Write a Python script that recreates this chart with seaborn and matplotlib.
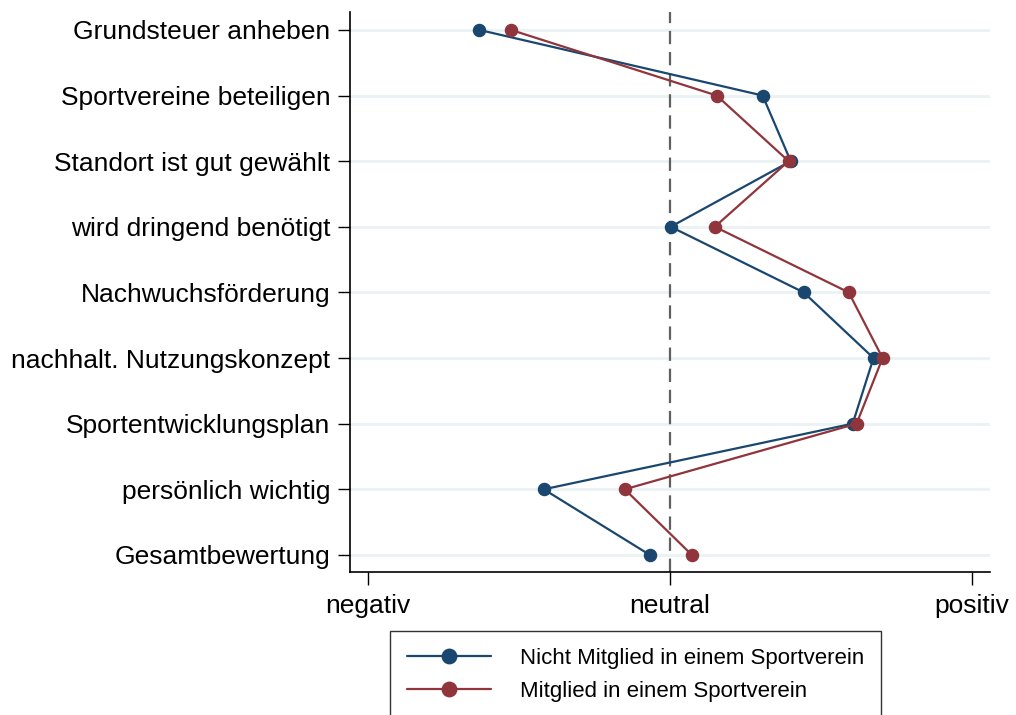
import matplotlib
matplotlib.use("Agg")
import matplotlib.pyplot as plt
import pandas as pd
import seaborn as sns

# Kategorien (von oben nach unten) und Mittelwerte je Gruppe (-1 = negativ, 1 = positiv)
kategorien = ["Grundsteuer anheben", "Sportvereine beteiligen", "Standort ist gut gewählt",
              "wird dringend benötigt", "Nachwuchsförderung", "nachhalt. Nutzungskonzept",
              "Sportentwicklungsplan", "persönlich wichtig", "Gesamtbewertung"]
nicht_mitglied = [-0.631, 0.307, 0.400, 0.003, 0.443, 0.674, 0.605, -0.417, -0.066]
mitglied = [-0.526, 0.155, 0.393, 0.149, 0.592, 0.704, 0.618, -0.149, 0.073]
gruppen = ["Nicht Mitglied in einem Sportverein", "Mitglied in einem Sportverein"]
x_ticks = [-1, 0, 1]
x_labels = ["negativ", "neutral", "positiv"]

df = pd.DataFrame({
    "kategorie": kategorien * 2,
    "wert": nicht_mitglied + mitglied,
    "gruppe": [gruppen[0]] * len(kategorien) + [gruppen[1]] * len(kategorien),
})

sns.set_style("white")
plt.rcParams["font.family"] = ["Liberation Sans", "DejaVu Sans"]
plt.rcParams["text.color"] = "black"

fig = plt.figure(figsize=(10.16, 7.15), dpi=100)
ax = fig.add_axes([0.3445, 0.2, 0.6295, 0.783])

# helle Gitterlinien je Kategorie
for i in range(len(kategorien)):
    ax.axhline(i, color="#eaf2f3", linewidth=2, zorder=0)

ax.axvline(0, color="#606060", linewidth=1.6, linestyle=(0, (6, 3.5)), zorder=1)

sns.pointplot(data=df, x="wert", y="kategorie", hue="gruppe", order=kategorien,
              hue_order=gruppen, palette=["#1a476f", "#90353b"], orient="h",
              dodge=False, errorbar=None, markers="o", markersize=8.5,
              linewidth=1.6, ax=ax, legend=True)

ax.set_xlim(-1.058, 1.058)
ax.set_ylim(8.26, -0.27)
ax.set_xticks(x_ticks)
ax.set_xticklabels(x_labels)
ax.set_xlabel("")
ax.set_ylabel("")
ax.tick_params(axis="both", direction="out", length=9, width=1, color="black",
               labelcolor="black", labelsize=19, pad=5, bottom=True, left=True)
ax.tick_params(axis="x", pad=7)
for s in ["top", "right"]:
    ax.spines[s].set_visible(False)
for s in ["left", "bottom"]:
    ax.spines[s].set_color("black")
    ax.spines[s].set_linewidth(1.2)

handles, labels = ax.get_legend_handles_labels()
ax.get_legend().remove()
leg = fig.legend(handles, labels, loc="upper left", bbox_to_anchor=(0.384, 0.117),
                 frameon=True, fancybox=False, edgecolor="black", fontsize=16,
                 handlelength=3.8, handletextpad=1.3, borderpad=0.75, labelspacing=0.55,
                 borderaxespad=0, markerscale=1.2)
leg.get_frame().set_linewidth(1)

fig.savefig("out.png", dpi=100)
